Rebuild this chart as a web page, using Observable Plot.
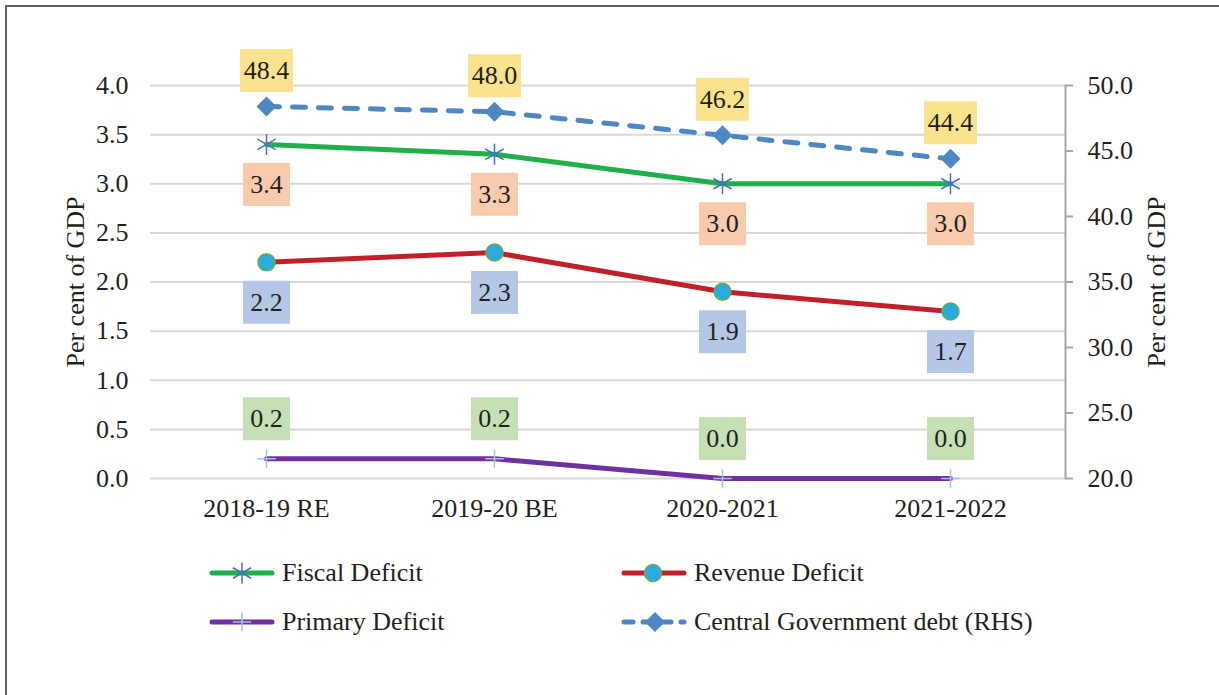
<!DOCTYPE html>
<html><head><meta charset="utf-8">
<script src="https://cdn.jsdelivr.net/npm/d3@7"></script>
<script src="https://cdn.jsdelivr.net/npm/@observablehq/plot@0.6"></script>
<style>
body{margin:0;background:#fff;width:1219px;height:695px;overflow:hidden;position:relative;font-family:"Liberation Serif","Times New Roman",serif;}
#frame{position:absolute;left:5px;top:5px;width:1300px;height:800px;border-top:2px solid #606060;border-left:2px solid #606060;}
#chart{position:absolute;left:0;top:0;}
.leg{position:absolute;display:flex;align-items:center;height:30px;font-size:26px;color:#231f20;white-space:nowrap;}
.leg svg{display:block;margin-right:6px;}
</style></head><body>
<div id="frame"></div>
<div id="chart"></div>
<div id="legend"></div>
<script>
// ---- data ----
const categories = ["2018-19 RE", "2019-20 BE", "2020-2021", "2021-2022"];
const fiscalDeficit = [3.4, 3.3, 3.0, 3.0];
const revenueDeficit = [2.2, 2.3, 1.9, 1.7];
const primaryDeficit = [0.2, 0.2, 0.0, 0.0];
const govDebt = [48.4, 48.0, 46.2, 44.4];
const leftTicks = [0, 0.5, 1.0, 1.5, 2.0, 2.5, 3.0, 3.5, 4.0];
const rightTicks = [20, 25, 30, 35, 40, 45, 50];
const leftDomain = [0, 4];
const rightDomain = [20, 50];
const axisTitle = "Per cent of GDP";
const seriesNames = ["Fiscal Deficit", "Revenue Deficit", "Primary Deficit", "Central Government debt (RHS)"];

// map right-axis values onto the left scale
const toLeft = v => leftDomain[0] + (v - rightDomain[0]) / (rightDomain[1] - rightDomain[0]) * (leftDomain[1] - leftDomain[0]);
const fromLeft = v => rightDomain[0] + (v - leftDomain[0]) / (leftDomain[1] - leftDomain[0]) * (rightDomain[1] - rightDomain[0]);

const rows = (vals, series) => categories.map((c, i) => ({category: c, value: vals[i], y: vals[i], series}));
const fiscal = rows(fiscalDeficit, seriesNames[0]);
const revenue = rows(revenueDeficit, seriesNames[1]);
const primary = rows(primaryDeficit, seriesNames[2]);
const debt = categories.map((c, i) => ({category: c, value: govDebt[i], y: toLeft(govDebt[i]), series: seriesNames[3]}));

// colours
const C = {
  fiscal: "#1fb04c", fiscalMark: "#4472c4",
  revenue: "#c1202b", revFill: "#29abe2", revStroke: "#70ad47",
  primary: "#7030a0", primMark: "#9dc3e6",
  debt: "#4f87c2",
  grid: "#d9d9d9", axis: "#a6a6a6", text: "#231f20",
  boxDebt: "#fbe38e", boxFiscal: "#f8cbad", boxRev: "#b4c7e7", boxPrim: "#c5e0b4"
};

const box = (w, h) => ({draw(ctx) {
  ctx.moveTo(-w / 2, -h / 2); ctx.lineTo(w / 2, -h / 2); ctx.lineTo(w / 2, h / 2); ctx.lineTo(-w / 2, h / 2); ctx.closePath();
}});

const fmt = d => d.value.toFixed(1);
const labels = (data, fill, dy, w) => [
  Plot.dot(data, {x: "category", y: "y", symbol: box(w, 43), r: 5, fill, stroke: null, dy}),
  Plot.text(data, {x: "category", y: "y", text: fmt, dy, fontSize: 26, fill: C.text})
];

const chart = Plot.plot({
  width: 1219,
  height: 540,
  marginLeft: 150,
  marginRight: 154,
  marginTop: 85,
  marginBottom: 62,
  style: {fontFamily: '"Liberation Serif","Times New Roman",serif', fontSize: "26px", color: C.text, background: "transparent"},
  x: {type: "point", domain: categories, padding: 0.5},
  y: {domain: leftDomain},
  marks: [
    Plot.gridY(leftTicks, {stroke: C.grid, strokeOpacity: 1, strokeWidth: 2}),
    Plot.frame({anchor: "right", stroke: C.axis, strokeWidth: 2}),
    Plot.axisX({tickSize: 0, tickPadding: 20, label: null, fill: C.text}),
    Plot.axisY({ticks: leftTicks, tickFormat: d => d.toFixed(1), tickSize: 0, tickPadding: 22,
      label: axisTitle, labelAnchor: "center", labelOffset: 85, labelArrow: "none", fill: C.text}),
    Plot.axisY({anchor: "right", ticks: rightTicks.map(toLeft), tickFormat: d => fromLeft(d).toFixed(1),
      tickSize: 7, tickPadding: 15, stroke: C.axis, strokeWidth: 2, fill: C.text,
      label: axisTitle, labelAnchor: "center", labelOffset: 99, labelArrow: "none"}),
    Plot.line(primary, {x: "category", y: "y", stroke: C.primary, strokeWidth: 5, strokeLinecap: "round"}),
    Plot.line(revenue, {x: "category", y: "y", stroke: C.revenue, strokeWidth: 5, strokeLinecap: "round"}),
    Plot.line(fiscal, {x: "category", y: "y", stroke: C.fiscal, strokeWidth: 5, strokeLinecap: "round"}),
    Plot.line(debt, {x: "category", y: "y", stroke: C.debt, strokeWidth: 5, strokeDasharray: "13,13", strokeLinecap: "round"}),
    Plot.dot(fiscal, {x: "category", y: "y", symbol: "asterisk", r: 10, stroke: C.fiscalMark, strokeWidth: 1.5, fill: "none"}),
    Plot.dot(revenue, {x: "category", y: "y", symbol: "circle", r: 8.5, fill: C.revFill, stroke: C.revStroke, strokeWidth: 1.5}),
    Plot.dot(primary, {x: "category", y: "y", symbol: "plus", r: 6, stroke: C.primMark, strokeWidth: 1.5, fill: "none"}),
    Plot.dot(debt, {x: "category", y: "y", symbol: "diamond2", r: 9, fill: C.debt, stroke: null}),
    ...labels(debt, C.boxDebt, -36, 53),
    ...labels(fiscal, C.boxFiscal, 40, 47),
    ...labels(revenue, C.boxRev, 40, 47),
    ...labels(primary, C.boxPrim, -40, 47)
  ]
});
document.getElementById("chart").appendChild(chart);

// ---- legend ----
const sym = (type, r) => d3.symbol(type, Math.PI * r * r)();
const legendItems = [
  {name: seriesNames[0], left: 208, top: 558, line: C.fiscal, dash: null,
   marker: `<path d="${sym(d3.symbolAsterisk, 10)}" transform="translate(34,12)" fill="none" stroke="${C.fiscalMark}" stroke-width="1.5"/>`},
  {name: seriesNames[1], left: 620, top: 558, line: C.revenue, dash: null,
   marker: `<circle cx="33" cy="12" r="8.5" fill="${C.revFill}" stroke="${C.revStroke}" stroke-width="1.5"/>`},
  {name: seriesNames[2], left: 208, top: 607, line: C.primary, dash: null,
   marker: `<path d="${sym(d3.symbolPlus, 6)}" transform="translate(34,12)" fill="none" stroke="${C.primMark}" stroke-width="1.5"/>`},
  {name: seriesNames[3], left: 620, top: 607, line: C.debt, dash: "9,10",
   marker: `<path d="${sym(d3.symbolDiamond2, 9)}" transform="translate(35,12)" fill="${C.debt}"/>`}
];
const legend = document.getElementById("legend");
for (const it of legendItems) {
  const div = document.createElement("div");
  div.className = "leg";
  div.style.left = it.left + "px";
  div.style.top = it.top + "px";
  div.innerHTML = `<svg width="68" height="24"><line x1="4" x2="64" y1="12" y2="12" stroke="${it.line}" stroke-width="5" stroke-linecap="round"${it.dash ? ` stroke-dasharray="${it.dash}"` : ""}/>${it.marker}</svg><span>${it.name}</span>`;
  legend.appendChild(div);
}
</script>
</body></html>
